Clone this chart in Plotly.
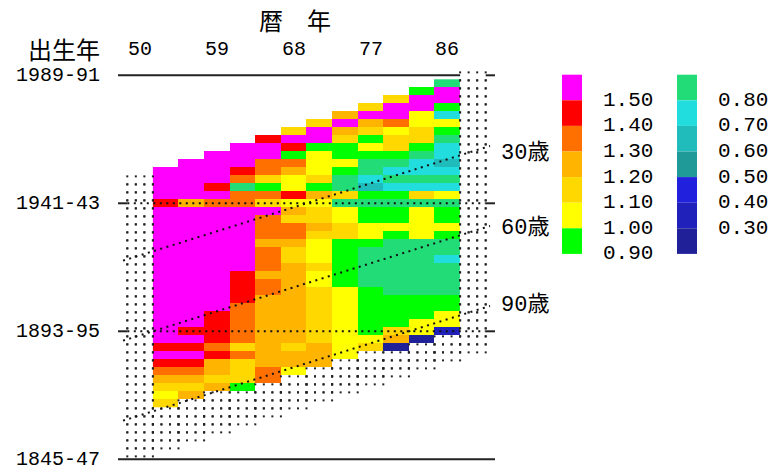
import numpy as np
import plotly.graph_objects as go

W, H = 772, 473

# ---------------- data ----------------
# start year of each 3-year calendar period (column); values run from the
# youngest age group (0-2) downwards in 3-year age steps (one cohort row each)
periods = [1953, 1956, 1959, 1962, 1965, 1968, 1971, 1974, 1977, 1980, 1983, 1986]

v1953 = [1.60, 1.60, 1.60, 1.60, 1.45, 1.60, 1.60, 1.60, 1.60, 1.60,
         1.60, 1.60, 1.60, 1.60, 1.60, 1.60, 1.60, 1.60, 1.60, 1.60,
         1.60, 1.60, 1.45, 1.60, 1.45, 1.35, 1.25, 1.15, 1.05, 1.15]
v1956 = [1.60, 1.60, 1.60, 1.60, 1.60, 1.25, 1.60, 1.60, 1.60, 1.60,
         1.60, 1.60, 1.60, 1.60, 1.60, 1.60, 1.60, 1.60, 1.60, 1.60,
         1.60, 1.45, 1.60, 1.45, 1.60, 1.45, 1.35, 1.25, 1.15, 1.25]
v1959 = [1.60, 1.60, 1.60, 1.60, 1.45, 1.60, 1.35, 1.60, 1.60, 1.60,
         1.60, 1.60, 1.60, 1.60, 1.60, 1.60, 1.60, 1.60, 1.60, 1.60,
         1.45, 1.45, 1.45, 1.45, 1.35, 1.45, 1.25, 1.25, 1.15, 1.25]
v1962 = [1.60, 1.60, 1.60, 1.45, 1.35, 0.85, 1.35, 1.35, 1.60, 1.60,
         1.60, 1.60, 1.60, 1.60, 1.60, 1.60, 1.45, 1.45, 1.45, 1.45,
         1.35, 1.35, 1.35, 1.35, 1.35, 1.15, 1.35, 1.15, 1.15, 1.15,
         0.95]
v1965 = [1.45, 1.60, 1.60, 1.35, 1.35, 1.15, 0.95, 1.35, 1.15, 1.60,
         1.35, 1.35, 1.35, 1.25, 1.35, 1.35, 1.35, 1.25, 1.35, 1.35,
         1.25, 1.25, 1.25, 1.25, 1.25, 1.25, 1.25, 1.25, 1.25, 1.35,
         1.35]
v1968 = [1.15, 1.60, 1.45, 0.95, 1.35, 1.25, 1.05, 1.05, 1.45, 1.05,
         1.25, 1.15, 1.35, 1.35, 1.25, 1.15, 1.15, 1.25, 1.25, 1.25,
         1.25, 1.25, 1.25, 1.25, 1.25, 1.25, 1.25, 1.15, 1.25, 1.25,
         1.05]
v1971 = [1.15, 1.60, 1.60, 0.95, 1.05, 1.05, 1.05, 1.15, 0.95, 1.25,
         1.05, 1.15, 1.15, 1.25, 1.15, 1.05, 1.05, 1.05, 1.15, 1.05,
         1.05, 1.15, 1.15, 1.15, 1.15, 1.15, 1.15, 1.15, 1.25, 1.25,
         1.25]
v1974 = [1.25, 1.60, 1.25, 1.15, 0.95, 0.95, 1.05, 0.95, 0.85, 0.85,
         1.15, 0.85, 1.05, 1.05, 1.15, 1.15, 0.95, 0.95, 0.95, 0.95,
         0.95, 0.95, 1.05, 1.05, 1.05, 1.05, 1.05, 1.05, 1.05, 1.05,
         1.05]
v1977 = [1.15, 1.60, 1.25, 1.15, 0.95, 1.05, 0.95, 0.85, 0.85, 0.75,
         0.65, 0.95, 0.85, 0.95, 0.95, 1.05, 1.05, 0.95, 0.85, 0.85,
         0.85, 0.85, 0.85, 0.95, 0.95, 0.95, 0.95, 0.95, 0.95, 1.05,
         1.15]
v1980 = [1.15, 1.60, 1.60, 1.35, 1.05, 1.15, 1.15, 0.95, 0.85, 0.75,
         0.85, 0.75, 0.95, 0.85, 0.95, 0.95, 1.05, 0.95, 0.85, 0.85,
         0.85, 0.85, 0.85, 0.85, 0.85, 0.95, 0.95, 0.95, 0.95, 1.15,
         1.25, 0.25]
v1983 = [0.95, 1.60, 1.60, 1.05, 1.05, 1.15, 1.15, 0.95, 0.85, 0.75,
         0.75, 0.85, 0.75, 1.15, 0.85, 1.05, 1.05, 1.05, 1.05, 0.85,
         0.85, 0.85, 0.85, 0.85, 0.85, 0.85, 0.95, 0.95, 0.95, 1.05,
         1.05, 0.25]
v1986 = [0.85, 1.60, 1.60, 0.95, 0.75, 1.05, 0.95, 0.85, 0.75, 0.75,
         0.65, 0.75, 0.85, 0.75, 1.05, 0.85, 0.95, 0.95, 1.05, 0.95,
         0.85, 0.85, 0.75, 0.85, 0.85, 0.85, 0.85, 0.95, 0.95, 1.05,
         1.05, 0.35]
columns = [v1953, v1956, v1959, v1962, v1965, v1968,
           v1971, v1974, v1977, v1980, v1983, v1986]

period_ticks = [1950, 1959, 1968, 1977, 1986]
period_tick_text = ["50", "59", "68", "77", "86"]
cohort_ticks = [1989, 1941, 1893, 1845]
cohort_tick_text = ["1989-91", "1941-43", "1893-95", "1845-47"]
age_lines = [30, 60, 90]
age_text = ["30歳", "60歳", "90歳"]

bin_edges = [0.30, 0.40, 0.50, 0.60, 0.70, 0.80, 0.90, 1.00, 1.10, 1.20, 1.30, 1.40, 1.50]
bin_colors = ["#202099", "#2020BB", "#2020DD", "#209999", "#20BBBB", "#22DDDD", "#22DD77",
              "#00FF00", "#FFFF00", "#FFD800", "#FFB400", "#FF7000", "#FF0000", "#FF00FF"]
legend_left_text = ["1.50", "1.40", "1.30", "1.20", "1.10", "1.00", "0.90"]
legend_right_text = ["0.80", "0.70", "0.60", "0.50", "0.40", "0.30"]

# ---------------- geometry (pixel mapping of the axes) ----------------
PX_PER_YEAR_X = 25.6 / 3
PX_PER_YEAR_Y = 8.0 / 3
X_REF_PX, X_REF = 447.3, 1986
Y_REF_PX, Y_REF = 75.3, 1989
x_range = [X_REF - X_REF_PX / PX_PER_YEAR_X, X_REF + (W - X_REF_PX) / PX_PER_YEAR_X]
y_range = [Y_REF - (H - Y_REF_PX) / PX_PER_YEAR_Y, Y_REF + Y_REF_PX / PX_PER_YEAR_Y]


def px2x(px):
    return X_REF + (px - X_REF_PX) / PX_PER_YEAR_X


STEP = 3
cohort_rows = list(range(1866, 1987, STEP))
z = [[None] * len(periods) for _ in cohort_rows]
for i, (c, vals) in enumerate(zip(periods, columns)):
    for k, v in enumerate(vals):
        b = c - STEP * k
        z[cohort_rows.index(b)][i] = int(np.digitize(v, bin_edges))

n = len(bin_colors)
cscale = []
for j, col in enumerate(bin_colors):
    cscale.append([j / n, col])
    cscale.append([(j + 1) / n, col])

fig = go.Figure()
fig.add_trace(go.Heatmap(x=periods, y=cohort_rows, z=z, colorscale=cscale,
                         zmin=-0.5, zmax=n - 0.5, showscale=False,
                         xgap=0, ygap=0, hoverinfo="skip"))

# dotted empty Lexis cells (ages with no data up to 102)
MAX_ROWS = 35
dot_x, dot_y = [], []
for c in range(1950, 1990, STEP):
    vals = columns[periods.index(c)] if c in periods else []
    for k in range(len(vals), MAX_ROWS):
        b = c - STEP * k
        for dx in (-1.5, -0.5, 0.5, 1.5):
            for dy in (1.5, -1.5):
                dot_x.append(c + dx)
                dot_y.append(b + dy - 0.4)
fig.add_trace(go.Scatter(x=dot_x, y=dot_y, mode="markers",
                         marker=dict(symbol="square", size=2, color="#222", line_width=0),
                         hoverinfo="skip"))

LINE = "#222"
DOT = dict(color="#111", width=2, dash="2px,4.5px")
left_end, right_end = px2x(118), px2x(495)
# top and bottom solid frame lines
fig.add_trace(go.Scatter(x=[left_end, 1987.5], y=[1989, 1989], mode="lines",
                         line=dict(color=LINE, width=2), hoverinfo="skip"))
fig.add_trace(go.Scatter(x=[left_end, right_end], y=[1845, 1845], mode="lines",
                         line=dict(color=LINE, width=2), hoverinfo="skip"))
# horizontal dotted lines and tick marks
for b in cohort_ticks[1:3]:
    fig.add_trace(go.Scatter(x=[1948.5, 1990.5], y=[b, b], mode="lines", line=DOT, hoverinfo="skip"))
    fig.add_trace(go.Scatter(x=[left_end, 1948.5], y=[b, b], mode="lines",
                             line=dict(color=LINE, width=2), hoverinfo="skip"))
for b in cohort_ticks[:3]:
    fig.add_trace(go.Scatter(x=[1990.5, right_end], y=[b, b], mode="lines",
                             line=dict(color=LINE, width=2), hoverinfo="skip"))
# age lines
for a in age_lines:
    xs = [1948.0, 1991.0]
    fig.add_trace(go.Scatter(x=xs, y=[x - a + 1.5 for x in xs], mode="lines", line=DOT, hoverinfo="skip"))

MONO = "Liberation Mono, Noto Sans CJK JP"
CJK = "Noto Sans CJK JP"
ann = []
ann.append(dict(text="暦　年", x=295 / W, y=1 - 19 / H, xref="paper", yref="paper",
                xanchor="center", yanchor="middle", showarrow=False,
                font=dict(family=CJK, size=24, color="black")))
ann.append(dict(text="出生年", x=64 / W, y=1 - 48 / H, xref="paper", yref="paper",
                xanchor="center", yanchor="middle", showarrow=False,
                font=dict(family=CJK, size=24, color="black")))
for t, s in zip(period_ticks, period_tick_text):
    ann.append(dict(text=s, x=t, y=1 - 50 / H, xref="x", yref="paper",
                    xanchor="center", yanchor="middle", showarrow=False,
                    font=dict(family=MONO, size=20, color="black")))
for b, s in zip(cohort_ticks, cohort_tick_text):
    ann.append(dict(text=s, x=px2x(102), y=b, xref="x", yref="y",
                    xanchor="right", yanchor="middle", showarrow=False,
                    font=dict(family=MONO, size=20, color="black")))
for py, s in zip([153, 228, 305], age_text):
    ann.append(dict(text=s, x=499 / W, y=1 - py / H, xref="paper", yref="paper",
                    xanchor="left", yanchor="middle", showarrow=False,
                    font=dict(family=MONO, size=22, color="black")))

# legend swatches
shapes = []
sw_top, sw_h = 74.7, 25.6
left_cols = bin_colors[::-1][:7]
right_cols = bin_colors[::-1][7:]
for j, col in enumerate(left_cols):
    shapes.append(dict(type="rect", xref="paper", yref="paper",
                       x0=562 / W, x1=582 / W,
                       y0=1 - (sw_top + (j + 1) * sw_h) / H, y1=1 - (sw_top + j * sw_h) / H,
                       fillcolor=col, line=dict(width=0)))
for j, col in enumerate(right_cols):
    shapes.append(dict(type="rect", xref="paper", yref="paper",
                       x0=677 / W, x1=697 / W,
                       y0=1 - (sw_top + (j + 1) * sw_h) / H, y1=1 - (sw_top + j * sw_h) / H,
                       fillcolor=col, line=dict(width=0)))
for j, s in enumerate(legend_left_text):
    ann.append(dict(text=s, x=601 / W, y=1 - (sw_top + (j + 1) * sw_h) / H, xref="paper", yref="paper",
                    xanchor="left", yanchor="middle", showarrow=False,
                    font=dict(family=MONO, size=21, color="black")))
for j, s in enumerate(legend_right_text):
    ann.append(dict(text=s, x=716 / W, y=1 - (sw_top + (j + 1) * sw_h) / H, xref="paper", yref="paper",
                    xanchor="left", yanchor="middle", showarrow=False,
                    font=dict(family=MONO, size=21, color="black")))

fig.update_layout(width=W, height=H, margin=dict(l=0, r=0, t=0, b=0),
                  paper_bgcolor="white", plot_bgcolor="white", showlegend=False,
                  xaxis=dict(range=x_range, visible=False, fixedrange=True),
                  yaxis=dict(range=y_range, visible=False, fixedrange=True),
                  annotations=ann, shapes=shapes)

fig.write_html("out.html", include_plotlyjs=True,
               config={"displayModeBar": False, "staticPlot": True},
               post_script="document.body.style.margin='0';document.body.style.overflow='hidden';")
